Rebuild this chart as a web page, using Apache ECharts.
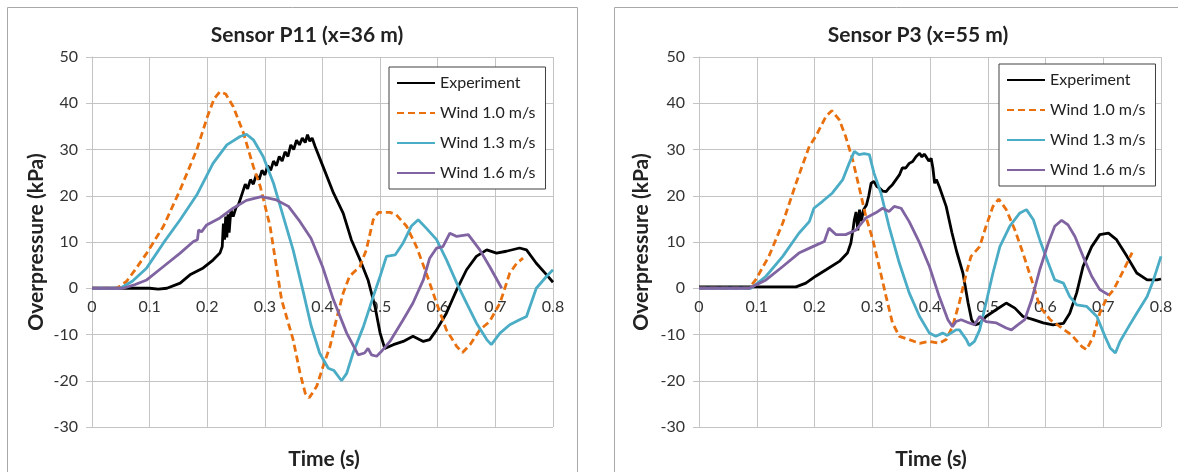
<!DOCTYPE html>
<html>
<head>
<meta charset="utf-8">
<script src="https://cdn.jsdelivr.net/npm/echarts@6/dist/echarts.min.js"></script>
<style>
  html, body { margin: 0; padding: 0; background: #fff; }
  #chart { width: 1178px; height: 472px; }
</style>
</head>
<body>
<div id="chart"></div>
<script>
// time (s), overpressure (kPa)
var seriesNames = ['Experiment', 'Wind 1.0 m/s', 'Wind 1.3 m/s', 'Wind 1.6 m/s'];
var panelTitles = ['Sensor P11 (x=36 m)', 'Sensor P3 (x=55 m)'];

// --- Sensor P11 ---
var p11Experiment = [
  [0, 0], [0.05, 0], [0.1, 0], [0.115, -0.2], [0.13, 0], [0.153, 1.1], [0.17, 2.9], [0.193, 4.4],
  [0.21, 6.1], [0.222, 7.6], [0.226, 9], [0.228, 14], [0.23, 10.5], [0.232, 15.5], [0.234, 11],
  [0.236, 16], [0.238, 12], [0.241, 17], [0.245, 15.5], [0.25, 17.5], [0.254, 18], [0.257, 18.4],
  [0.262, 21], [0.266, 22.5], [0.27, 21.5], [0.275, 23.5], [0.28, 22.5], [0.285, 24.5], [0.29, 23.5],
  [0.295, 25.5], [0.3, 24.5], [0.305, 26.5], [0.31, 25.5], [0.315, 27.5], [0.32, 26.5], [0.325, 28.5],
  [0.33, 27.5], [0.335, 29.5], [0.34, 28.5], [0.345, 31], [0.35, 30], [0.355, 32], [0.36, 31],
  [0.365, 32.5], [0.37, 31.5], [0.374, 33.2], [0.378, 31.8], [0.382, 32.5], [0.387, 30.7],
  [0.401, 26.3], [0.419, 20.6], [0.436, 16.2], [0.45, 10.5], [0.465, 6.2], [0.479, 1.8],
  [0.491, -3.9], [0.5, -9.7], [0.508, -13], [0.523, -12.2], [0.54, -11.5], [0.557, -10.4],
  [0.575, -11.5], [0.586, -11.1], [0.598, -9], [0.615, -5.4], [0.633, -0.3], [0.65, 4],
  [0.667, 6.9], [0.685, 8.3], [0.702, 7.6], [0.719, 8], [0.742, 8.7], [0.754, 8.3], [0.771, 5.4],
  [0.789, 2.9], [0.8, 1.3]
];
var p11Wind10 = [
  [0, 0], [0.043, 0], [0.06, 1.5], [0.075, 4], [0.095, 7.6], [0.124, 13.4], [0.153, 21.3],
  [0.182, 30], [0.2, 37], [0.212, 41], [0.222, 42.5], [0.232, 42], [0.245, 39.3], [0.263, 33.5],
  [0.28, 26.3], [0.292, 22], [0.309, 13.4], [0.32, 4.7], [0.329, -2.5], [0.349, -11.1],
  [0.361, -18.3], [0.37, -22.7], [0.377, -23.7], [0.39, -21.2], [0.401, -16.9], [0.413, -12.6],
  [0.424, -6.8], [0.436, -1], [0.447, 2.6], [0.465, 4.7], [0.476, 8.3], [0.488, 14.8],
  [0.497, 16.4], [0.517, 16.4], [0.528, 15.9], [0.546, 13.4], [0.563, 9], [0.58, 3.3],
  [0.598, -3.2], [0.615, -9], [0.633, -12.6], [0.643, -13.9], [0.656, -12.2], [0.673, -9],
  [0.69, -7.2], [0.708, -3.2], [0.725, 3.3], [0.737, 5.4], [0.748, 6.5]
];
var p11Wind13 = [
  [0, 0], [0.049, 0], [0.07, 1.5], [0.095, 4.4], [0.124, 9.8], [0.153, 14.8], [0.182, 20.2],
  [0.21, 27], [0.234, 31], [0.257, 32.8], [0.268, 33.3], [0.28, 32.1], [0.297, 28.5],
  [0.315, 22.7], [0.332, 15.5], [0.349, 8.3], [0.367, -1], [0.38, -8], [0.395, -14],
  [0.41, -17.3], [0.42, -17.8], [0.433, -20], [0.442, -18.4], [0.453, -14], [0.471, -8.3],
  [0.488, -1.8], [0.5, 2.6], [0.511, 6.9], [0.526, 7.2], [0.54, 9.8], [0.554, 13.4],
  [0.566, 14.8], [0.58, 13], [0.598, 10.5], [0.615, 6.2], [0.633, 1.1], [0.65, -3.2],
  [0.667, -7.5], [0.685, -11.1], [0.693, -12.2], [0.708, -9.7], [0.725, -7.9], [0.742, -6.8],
  [0.754, -6.1], [0.771, 0], [0.789, 2.6], [0.8, 4]
];
var p11Wind16 = [
  [0, 0], [0.054, 0], [0.075, 0.8], [0.095, 1.8], [0.124, 4.7], [0.153, 7.6], [0.176, 10.1],
  [0.183, 10.5], [0.185, 12.6], [0.19, 12.2], [0.199, 13.7], [0.222, 15.2], [0.245, 17.3],
  [0.268, 19], [0.294, 19.8], [0.32, 19.1], [0.341, 17.7], [0.361, 14.4], [0.38, 10.8],
  [0.4, 4.7], [0.419, -2.5], [0.442, -9.7], [0.462, -14.4], [0.473, -14], [0.479, -13],
  [0.485, -14.4], [0.494, -14.7], [0.502, -13.7], [0.517, -11.5], [0.54, -6.8], [0.557, -3.2],
  [0.575, 1.8], [0.586, 6.5], [0.598, 8.7], [0.609, 9], [0.621, 11.9], [0.633, 11.2],
  [0.653, 11.6], [0.673, 8.3], [0.69, 4.7], [0.711, 0]
];

// --- Sensor P3 ---
var p3Experiment = [
  [0, 0.3], [0.168, 0.3], [0.185, 1.1], [0.202, 2.6], [0.22, 4], [0.243, 5.8], [0.257, 7.6],
  [0.263, 9.8], [0.267, 13], [0.269, 14.8], [0.272, 16.5], [0.275, 12.5], [0.278, 17],
  [0.281, 14.5], [0.285, 17], [0.29, 18], [0.294, 20], [0.298, 22.7], [0.303, 23.1], [0.308, 22],
  [0.312, 21.7], [0.318, 21], [0.324, 20.9], [0.33, 21.8], [0.335, 22.4], [0.347, 24.5],
  [0.352, 26], [0.358, 26], [0.364, 27], [0.37, 27.4], [0.376, 28.5], [0.382, 29.2],
  [0.386, 28.4], [0.39, 29], [0.393, 28.5], [0.398, 27.5], [0.402, 28.1], [0.405, 26],
  [0.408, 22.7], [0.411, 23.5], [0.416, 22], [0.428, 17.7], [0.438, 12], [0.446, 8],
  [0.457, 3.3], [0.466, -3.2], [0.472, -6.8], [0.478, -7.9], [0.486, -7.6], [0.497, -6.1],
  [0.515, -4.6], [0.532, -3.2], [0.547, -4.3], [0.561, -6.1], [0.579, -6.8], [0.596, -7.5],
  [0.613, -7.9], [0.631, -7.6], [0.642, -5.4], [0.654, -1], [0.665, 4.7], [0.68, 9],
  [0.694, 11.6], [0.709, 11.9], [0.723, 10.5], [0.741, 6.9], [0.758, 3.3], [0.776, 1.8],
  [0.793, 1.8], [0.8, 2]
];
var p3Wind10 = [
  [0, 0], [0.087, 0], [0.098, 1.8], [0.121, 6.9], [0.145, 14.1], [0.168, 22.7], [0.191, 30.7],
  [0.202, 32.8], [0.22, 37.2], [0.23, 38.4], [0.243, 36.4], [0.254, 32.8], [0.266, 27.8],
  [0.277, 22], [0.289, 15.5], [0.301, 10.5], [0.312, 4.7], [0.324, -1.8], [0.335, -7.5],
  [0.347, -10.4], [0.364, -11.1], [0.382, -11.9], [0.399, -11.5], [0.416, -11.9], [0.428, -11.1],
  [0.439, -8.3], [0.451, -3], [0.463, 3.3], [0.471, 6.9], [0.486, 9], [0.497, 13.4],
  [0.509, 17.7], [0.519, 19.3], [0.532, 17], [0.547, 12.6], [0.561, 7.6], [0.576, 1.8],
  [0.59, -3.9], [0.608, -6.8], [0.625, -8.3], [0.645, -10.1], [0.663, -12.6], [0.671, -13.3],
  [0.683, -10.4], [0.694, -5.4], [0.706, -2.1], [0.718, -0.3], [0.73, 2.6], [0.741, 5.4],
  [0.75, 7.7]
];
var p3Wind13 = [
  [0, 0], [0.09, 0], [0.116, 2.6], [0.145, 6.9], [0.173, 11.9], [0.191, 14.4], [0.199, 17.3],
  [0.214, 18.8], [0.231, 20.6], [0.249, 23.5], [0.26, 27], [0.269, 29.6], [0.277, 28.9],
  [0.286, 29.1], [0.295, 28.9], [0.303, 24.9], [0.315, 20.6], [0.329, 13.4], [0.347, 5.4],
  [0.364, -1], [0.382, -6.1], [0.399, -9.7], [0.41, -10.4], [0.422, -9.7], [0.43, -10.2],
  [0.445, -9], [0.451, -9], [0.463, -11.1], [0.468, -12.4], [0.477, -11.5], [0.486, -9],
  [0.497, -3.2], [0.509, 3.3], [0.521, 9], [0.538, 13.4], [0.555, 16.2], [0.567, 17],
  [0.579, 14.8], [0.59, 10.5], [0.605, 5.4], [0.616, 1.8], [0.631, 1.1], [0.642, -1.8],
  [0.654, -3.6], [0.671, -3.9], [0.689, -6.1], [0.703, -10.4], [0.712, -12.9], [0.721, -14],
  [0.729, -11.5], [0.744, -8.3], [0.758, -5.4], [0.776, -1.8], [0.787, 1.8], [0.8, 6.9]
];
var p3Wind16 = [
  [0, 0], [0.087, 0], [0.116, 1.8], [0.145, 4.7], [0.173, 7.6], [0.197, 9], [0.217, 10.1],
  [0.225, 13], [0.237, 11.6], [0.254, 11.6], [0.272, 12.6], [0.289, 15.2], [0.306, 16.3],
  [0.318, 17.3], [0.329, 16.6], [0.338, 17.7], [0.35, 17.3], [0.364, 14.4], [0.382, 9.8],
  [0.399, 4.7], [0.416, -1.8], [0.431, -6.8], [0.439, -8.3], [0.445, -7.2], [0.454, -6.8],
  [0.468, -7.5], [0.477, -7.9], [0.486, -6.1], [0.497, -7.2], [0.515, -7.5], [0.532, -8.6],
  [0.541, -9], [0.552, -7.9], [0.564, -6.8], [0.576, -2.5], [0.59, 4], [0.605, 9.8],
  [0.616, 13.4], [0.628, 14.7], [0.639, 13.7], [0.651, 11.2], [0.665, 6.9], [0.68, 2.6],
  [0.694, -0.3], [0.709, -1.4]
];

var timeTicks = { min: 0, max: 0.8, interval: 0.1 };
var pressureTicks = { min: -30, max: 50, interval: 10 };

var panelData = [
  [p11Experiment, p11Wind10, p11Wind13, p11Wind16],
  [p3Experiment, p3Wind10, p3Wind13, p3Wind16]
];

var colors = ['#000000', '#E8700E', '#4BACC6', '#8064A2'];
var font = 'Lato, "Open Sans", sans-serif';
var gridColor = '#c4c4c4';
var textColor = '#333333';

var grids = [
  { left: 92, top: 57, width: 461, height: 370 },
  { left: 699, top: 57, width: 462, height: 370 }
];
// x axis crosses at 0 kPa, so lift it from the bottom of the grid
var zeroOffset = -grids[0].height * (0 - pressureTicks.min) / (pressureTicks.max - pressureTicks.min);

var chart = echarts.init(document.getElementById('chart'), null, { renderer: 'canvas' });

var xAxes = [], yAxes = [], series = [], legends = [];
grids.forEach(function(g, i) {
  xAxes.push({
    type: 'value', gridIndex: i, position: 'bottom', offset: zeroOffset,
    min: timeTicks.min, max: timeTicks.max, interval: timeTicks.interval,
    axisLine: { onZero: false, lineStyle: { color: gridColor } },
    axisTick: { show: false },
    axisLabel: { color: textColor, fontSize: 16, fontFamily: font, margin: 11 },
    splitLine: { show: true, lineStyle: { color: gridColor } }
  });
  yAxes.push({
    type: 'value', gridIndex: i,
    min: pressureTicks.min, max: pressureTicks.max, interval: pressureTicks.interval,
    axisLine: { show: true, onZero: false, lineStyle: { color: gridColor } },
    axisTick: { show: true, length: 6, lineStyle: { color: gridColor } },
    axisLabel: { color: textColor, fontSize: 16, fontFamily: font, margin: 14 },
    splitLine: { show: true, lineStyle: { color: gridColor } }
  });
  panelData[i].forEach(function(d, k) {
    series.push({
      name: seriesNames[k], type: 'line', xAxisIndex: i, yAxisIndex: i,
      data: d, symbol: 'none', smooth: false,
      lineStyle: { color: colors[k], width: 2.8, type: k === 1 ? [7, 4] : 'solid' },
      itemStyle: { color: colors[k] },
      z: 2 + k
    });
  });
});

function makeLegend(left, top) {
  return {
    data: seriesNames, orient: 'vertical', left: left, top: top,
    itemWidth: 38, itemHeight: 16, itemGap: 14, padding: [8, 10, 8, 7],
    borderColor: '#404040', borderWidth: 1, backgroundColor: '#ffffff',
    itemStyle: { opacity: 0, borderWidth: 0 },
    textStyle: { fontSize: 16, color: '#222', fontFamily: font }
  };
}
legends.push(makeLegend(389, 67));
legends.push(makeLegend(999, 64));

var titleFont = 'bold 21px ' + font;
var axisNameFont = 'bold 21px ' + font;
var graphics = [
  { type: 'rect', shape: { x: 7.5, y: 7.5, width: 570, height: 480 }, style: { fill: '#fff', stroke: '#a8a8a8', lineWidth: 1 }, z: -10 },
  { type: 'rect', shape: { x: 614.5, y: 7.5, width: 600, height: 480 }, style: { fill: '#fff', stroke: '#a8a8a8', lineWidth: 1 }, z: -10 },
  { type: 'text', x: 307, y: 35, style: { text: panelTitles[0], font: titleFont, fill: '#222', textAlign: 'center', textVerticalAlign: 'middle' } },
  { type: 'text', x: 918, y: 35, style: { text: panelTitles[1], font: titleFont, fill: '#222', textAlign: 'center', textVerticalAlign: 'middle' } },
  { type: 'text', x: 324, y: 459, style: { text: 'Time (s)', font: axisNameFont, fill: '#222', textAlign: 'center', textVerticalAlign: 'middle' } },
  { type: 'text', x: 931, y: 459, style: { text: 'Time (s)', font: axisNameFont, fill: '#222', textAlign: 'center', textVerticalAlign: 'middle' } },
  { type: 'text', x: 36, y: 242, rotation: Math.PI / 2, style: { text: 'Overpressure (kPa)', font: axisNameFont, fill: '#222', textAlign: 'center', textVerticalAlign: 'middle' } },
  { type: 'text', x: 641, y: 242, rotation: Math.PI / 2, style: { text: 'Overpressure (kPa)', font: axisNameFont, fill: '#222', textAlign: 'center', textVerticalAlign: 'middle' } }
];

chart.setOption({
  animation: false,
  backgroundColor: '#ffffff',
  grid: grids,
  xAxis: xAxes,
  yAxis: yAxes,
  legend: legends,
  graphic: graphics,
  series: series
});
window.addEventListener('resize', function() { chart.resize(); });
</script>
</body>
</html>
